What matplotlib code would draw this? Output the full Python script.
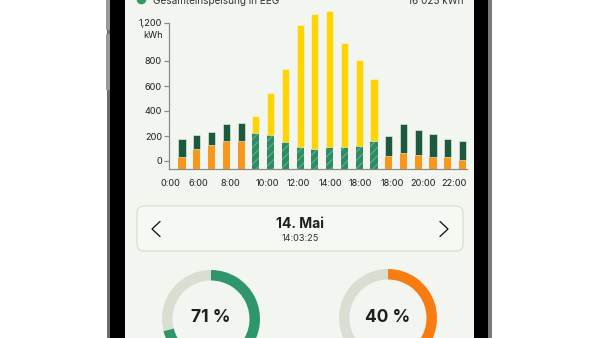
"""
plot.py — Phone-screen mock of the daily energy chart (hourly stacked bars,
date switcher and two percentage rings).

Run:
    python3 plot.py   -> out.png
"""

import numpy as np
import matplotlib
matplotlib.use("Agg")
import matplotlib.pyplot as plt
from matplotlib.patches import Rectangle, Wedge, Circle, FancyBboxPatch

# --- Data -------------------------------------------------------------------- #
XTICK_POS = [-0.75, 1.1, 3.3, 5.8, 7.9, 10.05, 12.1, 14.25, 16.3, 18.4]
XTICK_LABELS = ["0:00", "6:00", "8:00", "10:00", "12:00", "14:00",
                "18:00", "18:00", "20:00", "22:00"]
YTICKS = [0, 200, 400, 600, 800, 1104]
YTICK_LABELS = ["0", "200", "400", "600", "800", "1,200"]

# segment heights per bar (kWh), 20 bars
eigenverbrauch = np.array([35, 94, 126, 160, 160, 0, 0, 0, 0, 0,
                           0, 0, 0, 0, 43, 61, 48, 35, 32, 11])
netzbezug = np.array([143, 114, 109, 136, 146, 0, 0, 0, 0, 0,
                      0, 0, 0, 0, 157, 232, 200, 178, 144, 149])
einspeisung_eeg = np.array([0, 0, 0, 0, 0, 227, 211, 149, 112, 96,
                            112, 109, 123, 163, 0, 0, 0, 0, 0, 0])
pv_ueberschuss = np.array([0, 0, 0, 0, 0, 133, 336, 589, 976, 1080,
                           1088, 835, 685, 493, 0, 0, 0, 0, 0, 0])

HEADER_LEFT = "Gesamteinspeisung in EEG"
HEADER_RIGHT = "16 025 kWh"
DATE_LABEL = "14. Mai"
TIME_LABEL = "14:03:25"
RING_VALUES = [0.71, 0.40]
RING_LABELS = ["71 %", "40 %"]

# --- Style ------------------------------------------------------------------- #
BG = "#f3f6f0"
ORANGE = "#f8981a"
DARK_GREEN = "#1c5a3e"
EEG_GREEN = "#2f8c62"
EEG_HATCH = "#62b990"
YELLOW = "#ffd400"
RING_COLORS = ["#2f956a", "#f97c12"]
RING_TRACK = "#d9ded3"
TEXT = "#1e1e1e"
FLOOR = -64          # axis floor below the 0 tick
BAR_W = 0.48

plt.rcParams["font.family"] = ["Inter", "DejaVu Sans"]
plt.rcParams["hatch.linewidth"] = 0.7

W, H = 600, 338
fig = plt.figure(figsize=(W / 100, H / 100), dpi=100)
fig.patch.set_facecolor("white")

# background axes in pixel coordinates (y downwards)
bg = fig.add_axes([0, 0, 1, 1])
bg.set_xlim(0, W)
bg.set_ylim(H, 0)
bg.axis("off")

# phone frame
bg.add_patch(Rectangle((107, 0), 3, H, color="#6e6e6e", lw=0))
bg.add_patch(Rectangle((106, 0), 4, 30, color="#9a9a9a", lw=0))
bg.add_patch(Rectangle((106, 34), 4, 56, color="#9a9a9a", lw=0))
bg.add_patch(Rectangle((110, 0), 15, H, color="black", lw=0))
bg.add_patch(Rectangle((474, 0), 14, H, color="black", lw=0))
bg.add_patch(Rectangle((488, 0), 4, H, color="#7a7a7a", lw=0))
bg.add_patch(Rectangle((125, 0), 349, H, color=BG, lw=0))

# header (cut by the top edge, as in the screenshot)
bg.add_patch(Circle((141.5, -0.5), 4.8, color="#2e9a5f", lw=0))
bg.text(153, 4, HEADER_LEFT, fontsize=7.2, color="#333333",
        ha="left", va="baseline")
bg.text(463, 4, HEADER_RIGHT, fontsize=7.2, color="#333333",
        ha="right", va="baseline")

# date switcher card
bg.add_patch(FancyBboxPatch((137, 206), 326, 45,
                            boxstyle="round,pad=0,rounding_size=7",
                            fc="#f5f8f3", ec="#d3e2d4", lw=0.9))
bg.plot([160, 152, 160], [221.5, 229, 236.5], color=TEXT, lw=1.0,
        solid_capstyle="round", solid_joinstyle="miter")
bg.plot([440, 448, 440], [221.5, 229, 236.5], color=TEXT, lw=1.0,
        solid_capstyle="round", solid_joinstyle="miter")
bg.text(300.5, 223.5, DATE_LABEL, fontsize=10, fontweight="bold",
        color=TEXT, ha="center", va="center")
bg.text(300.5, 238.5, TIME_LABEL, fontsize=6.6, color="#333333",
        ha="center", va="center")

# percentage rings (y is inverted, so increasing angle = clockwise on screen)
for (cx, cy), val, lab, col in zip([(211, 319), (388, 318)], RING_VALUES,
                                   RING_LABELS, RING_COLORS):
    r, w = 49, 10.5
    end = -90 + 360 * val
    bg.add_patch(Wedge((cx, cy), r, end, 270, width=w, color=RING_TRACK, lw=0))
    bg.add_patch(Wedge((cx, cy), r, -90, end, width=w, color=col, lw=0))
    bg.text(cx, cy - 1, lab, fontsize=12.5, fontweight="bold", color=TEXT,
            ha="center", va="center")

# --- Bar chart --------------------------------------------------------------- #
ax = fig.add_axes([169 / W, 1 - 169 / H, (467 - 169) / W, (169 - 7) / H])
ax.set_facecolor("none")
x = np.arange(len(eigenverbrauch))

m = eigenverbrauch > 0
ax.bar(x[m], eigenverbrauch[m] - FLOOR, bottom=FLOOR, width=BAR_W,
       color=ORANGE, lw=0)
ax.bar(x[m], netzbezug[m], bottom=eigenverbrauch[m], width=BAR_W,
       color=DARK_GREEN, ec=BG, lw=0.4)

m = einspeisung_eeg > 0
ax.bar(x[m], einspeisung_eeg[m] - FLOOR, bottom=FLOOR, width=BAR_W,
       facecolor=EEG_GREEN, edgecolor=EEG_HATCH, lw=0, hatch="////")
ax.bar(x[m], pv_ueberschuss[m], bottom=einspeisung_eeg[m], width=BAR_W,
       color=YELLOW, ec=BG, lw=0.4)

ax.set_xlim(-0.88, 19.30)
ax.set_ylim(FLOOR, 1232)
ax.set_yticks(YTICKS, YTICK_LABELS)
ax.set_xticks(XTICK_POS, XTICK_LABELS)
ax.tick_params(axis="y", length=3.5, width=0.9, color="#8a8a8a", pad=1.5,
               labelsize=6.6, labelcolor=TEXT)
ax.tick_params(axis="x", length=0, pad=7, labelsize=6.6, labelcolor=TEXT)
ax.text(-0.02, 1000, "kWh", transform=ax.get_yaxis_transform(),
        fontsize=6.6, color=TEXT, ha="right", va="center")

for side in ("top", "right"):
    ax.spines[side].set_visible(False)
ax.spines["left"].set_bounds(FLOOR, 1104)
for side in ("left", "bottom"):
    ax.spines[side].set_color("#8a8a8a")
    ax.spines[side].set_linewidth(0.9)

fig.savefig("out.png", dpi=100, facecolor="white")
plt.close(fig)
